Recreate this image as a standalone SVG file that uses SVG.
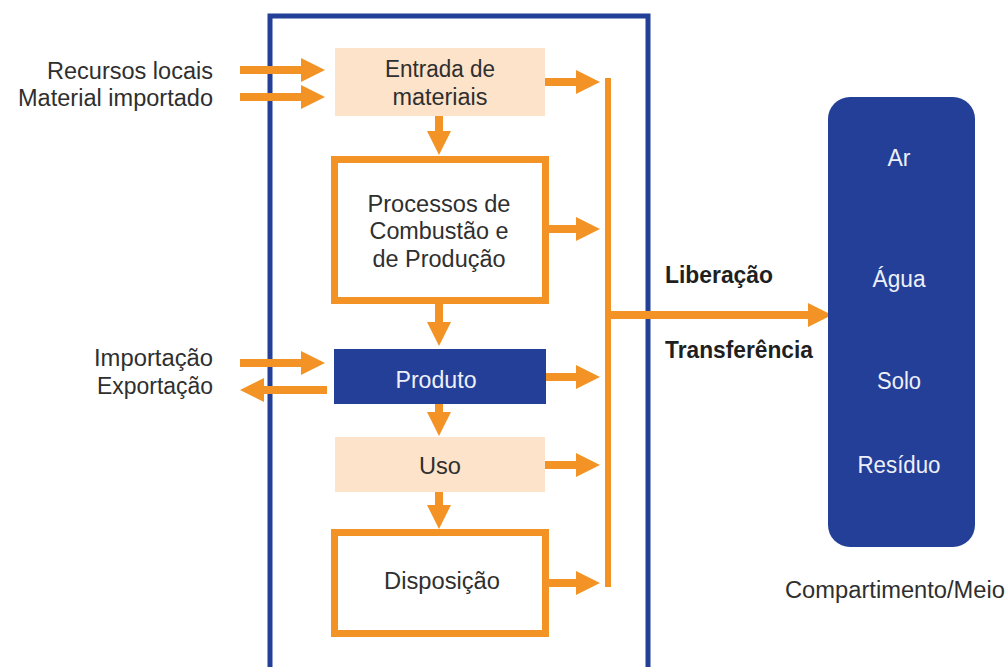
<svg xmlns="http://www.w3.org/2000/svg" width="1008" height="667" viewBox="0 0 1008 667">
<defs>
<marker id="ah" viewBox="0 0 24 24" refX="0" refY="12" markerWidth="24" markerHeight="24" markerUnits="userSpaceOnUse" orient="auto">
<path d="M0,0 L24,12 L0,24 Z" fill="#f39325"/>
</marker>
</defs>
<style>
text{font-family:"Liberation Sans Narrow","Liberation Sans",Arial,sans-serif;font-size:23px;fill:#2f2f2f}
.w{fill:#eef0f8}
.b{font-weight:bold;fill:#1f1f1f}
.c{text-anchor:middle}
.r{text-anchor:end}
.a{stroke:#f39325;stroke-width:8;fill:none;marker-end:url(#ah)}
.peach{fill:#fde3c9}
.ob{fill:#fff;stroke:#f39325;stroke-width:7}
.blue{fill:#233f98}
</style>
<rect width="1008" height="667" fill="#fff"/>
<g id="frame"><rect x="270" y="16" width="378" height="700" fill="none" stroke="#233f98" stroke-width="5"/></g>

<g id="connectors">
<line class="a" x1="240" y1="70" x2="301" y2="70"/>
<line class="a" x1="240" y1="97" x2="301" y2="97"/>
<line class="a" x1="240" y1="363" x2="301" y2="363"/>
<line class="a" x1="327" y1="390" x2="264" y2="390"/>
<line class="a" x1="439" y1="116" x2="439" y2="131"/>
<line class="a" x1="439" y1="304" x2="439" y2="322"/>
<line class="a" x1="439" y1="404" x2="439" y2="412"/>
<line class="a" x1="439" y1="492" x2="439" y2="505"/>
<line class="a" x1="545" y1="82" x2="576" y2="82"/>
<line class="a" x1="549" y1="229" x2="576" y2="229"/>
<line class="a" x1="546" y1="377" x2="576" y2="377"/>
<line class="a" x1="545" y1="465" x2="576" y2="465"/>
<line class="a" x1="549" y1="583" x2="576" y2="583"/>
<line x1="608" y1="78" x2="608" y2="587" stroke="#f39325" stroke-width="6"/>
<line class="a" x1="605" y1="315" x2="808" y2="315"/>
</g>

<g id="ext-labels">
<text class="r" x="213" y="79" textLength="166" lengthAdjust="spacingAndGlyphs">Recursos locais</text>
<text class="r" x="213" y="106" textLength="195" lengthAdjust="spacingAndGlyphs">Material importado</text>
<text class="r" x="213" y="366" textLength="119" lengthAdjust="spacingAndGlyphs">Importação</text>
<text class="r" x="213" y="394" textLength="116" lengthAdjust="spacingAndGlyphs">Exportação</text>
</g>

<g id="entrada">
<rect class="peach" x="335" y="48" width="210" height="68"/>
<text class="c" x="440" y="77" textLength="110" lengthAdjust="spacingAndGlyphs">Entrada de</text>
<text class="c" x="440" y="105" textLength="95" lengthAdjust="spacingAndGlyphs">materiais</text>
</g>

<g id="processos">
<rect class="ob" x="334.5" y="159.5" width="211" height="141"/>
<text class="c" x="439" y="212" textLength="143" lengthAdjust="spacingAndGlyphs">Processos de</text>
<text class="c" x="439" y="239" textLength="139" lengthAdjust="spacingAndGlyphs">Combustão e</text>
<text class="c" x="439" y="267" textLength="133" lengthAdjust="spacingAndGlyphs">de Produção</text>
</g>

<g id="produto">
<rect class="blue" x="334" y="349" width="212" height="55"/>
<text class="c w" x="436" y="388" textLength="81" lengthAdjust="spacingAndGlyphs">Produto</text>
</g>

<g id="uso">
<rect class="peach" x="335" y="437" width="210" height="55"/>
<text class="c" x="440" y="474" textLength="42" lengthAdjust="spacingAndGlyphs">Uso</text>
</g>

<g id="disposicao">
<rect class="ob" x="334.5" y="532.5" width="211" height="101"/>
<text class="c" x="442" y="589" textLength="116" lengthAdjust="spacingAndGlyphs">Disposição</text>
</g>

<g id="flow-labels">
<text class="b" x="665" y="283" textLength="108" lengthAdjust="spacingAndGlyphs">Liberação</text>
<text class="b" x="665" y="358" textLength="148" lengthAdjust="spacingAndGlyphs">Transferência</text>
</g>

<g id="compartimento">
<rect class="blue" x="828" y="97" width="147" height="450" rx="22"/>
<text class="c w" x="899" y="166" textLength="23" lengthAdjust="spacingAndGlyphs">Ar</text>
<text class="c w" x="899" y="287" textLength="53" lengthAdjust="spacingAndGlyphs">Água</text>
<text class="c w" x="899" y="389" textLength="44" lengthAdjust="spacingAndGlyphs">Solo</text>
<text class="c w" x="899" y="473" textLength="83" lengthAdjust="spacingAndGlyphs">Resíduo</text>
<text class="c" x="895" y="598" textLength="220" lengthAdjust="spacingAndGlyphs">Compartimento/Meio</text>
</g>
</svg>
